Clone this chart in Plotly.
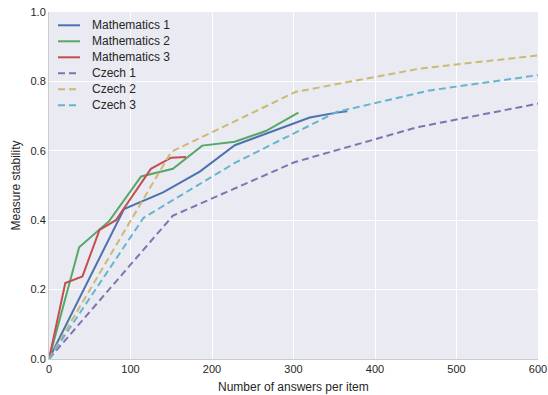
import plotly.graph_objects as go

# Data
math1_x = [0, 92, 140, 185, 228, 320, 353, 366]
math1_y = [0, 0.432, 0.480, 0.540, 0.616, 0.696, 0.710, 0.714]

math2_x = [0, 37, 74, 113, 152, 188, 228, 266, 306]
math2_y = [0, 0.322, 0.398, 0.526, 0.548, 0.615, 0.626, 0.657, 0.710]

math3_x = [0, 20, 41, 62, 82, 125, 150, 168]
math3_y = [0, 0.219, 0.238, 0.372, 0.400, 0.548, 0.580, 0.582]

czech1_x = [0, 152, 301, 452, 600]
czech1_y = [0, 0.413, 0.567, 0.668, 0.736]

czech2_x = [0, 150, 303, 455, 600]
czech2_y = [0, 0.597, 0.770, 0.837, 0.875]

czech3_x = [0, 116, 228, 353, 467, 600]
czech3_y = [0, 0.407, 0.565, 0.712, 0.774, 0.818]

series_names = ["Mathematics 1", "Mathematics 2", "Mathematics 3",
                "Czech 1", "Czech 2", "Czech 3"]
series_x = [math1_x, math2_x, math3_x, czech1_x, czech2_x, czech3_x]
series_y = [math1_y, math2_y, math3_y, czech1_y, czech2_y, czech3_y]
series_colors = ["#4C72B0", "#55A868", "#C44E52", "#8172B2", "#CCB974", "#64B5CD"]
series_dash = ["solid", "solid", "solid", "7px,4px", "7px,4px", "7px,4px"]

x_ticks = [0, 100, 200, 300, 400, 500, 600]
y_ticks = [0.0, 0.2, 0.4, 0.6, 0.8, 1.0]

W, H = 548, 395
ML, MR, MT, MB = 49, 10, 12, 36
PW, PH = W - ML - MR, H - MT - MB

fig = go.Figure()
for name, xs, ys, color, dash in zip(series_names, series_x, series_y,
                                     series_colors, series_dash):
    fig.add_trace(go.Scatter(
        x=xs, y=ys, mode="lines", name=name, showlegend=False,
        line=dict(color=color, width=2, dash=dash),
    ))

font_family = "Liberation Sans, Arial, sans-serif"
text_color = "#262626"

# Legend drawn in paper coordinates (matplotlib-like compact legend)
shapes = []
annotations = []
leg_x0, leg_x1, leg_text = 9 / PW, 31 / PW, 44 / PW
leg_top, leg_step = (MT + PH - 25.3) / PH, 16 / PH
for i, (name, color, dash) in enumerate(zip(series_names, series_colors, series_dash)):
    yy = leg_top - i * leg_step
    shapes.append(dict(type="line", xref="paper", yref="paper",
                       x0=leg_x0, x1=leg_x1, y0=yy, y1=yy,
                       line=dict(color=color, width=2,
                                 dash="solid" if dash == "solid" else "7px,4px")))
    annotations.append(dict(text=name, xref="paper", yref="paper",
                            x=leg_text, xshift=-3, y=yy, xanchor="left", yanchor="middle",
                            showarrow=False,
                            font=dict(size=12, color=text_color, family=font_family)))

# Axis titles
annotations.append(dict(text="Number of answers per item", xref="paper", yref="paper",
                        x=0.5, y=0, yshift=-28, xanchor="center", yanchor="middle",
                        showarrow=False, font=dict(size=12, color=text_color)))
annotations.append(dict(text="Measure stability", xref="paper", yref="paper",
                        x=0, xshift=-34, y=0.5, xanchor="center", yanchor="middle",
                        textangle=-90, showarrow=False,
                        font=dict(size=12, color=text_color)))

fig.update_layout(
    width=W, height=H,
    margin=dict(l=ML, r=MR, t=MT, b=MB, autoexpand=False),
    paper_bgcolor="white",
    plot_bgcolor="#EAEAF2",
    font=dict(family=font_family, size=11, color=text_color),
    showlegend=False,
    shapes=shapes,
    annotations=annotations,
    xaxis=dict(
        range=[0, 600], tickvals=x_ticks,
        ticktext=[str(v) for v in x_ticks],
        showgrid=True, gridcolor="white", gridwidth=1,
        zeroline=False, showline=True, linecolor="#CCCCCC", linewidth=1,
        ticks="", tickfont=dict(size=11), automargin=False,
    ),
    yaxis=dict(
        range=[0, 1.0], tickvals=y_ticks,
        ticktext=["%.1f" % v for v in y_ticks],
        showgrid=True, gridcolor="white", gridwidth=1,
        zeroline=False, showline=True, linecolor="#CCCCCC", linewidth=1,
        ticks="", tickfont=dict(size=11), automargin=False,
    ),
)

fig.write_html("out.html",
               config={"displayModeBar": False},
               post_script="document.body.style.margin='0';document.body.style.overflow='hidden';")
